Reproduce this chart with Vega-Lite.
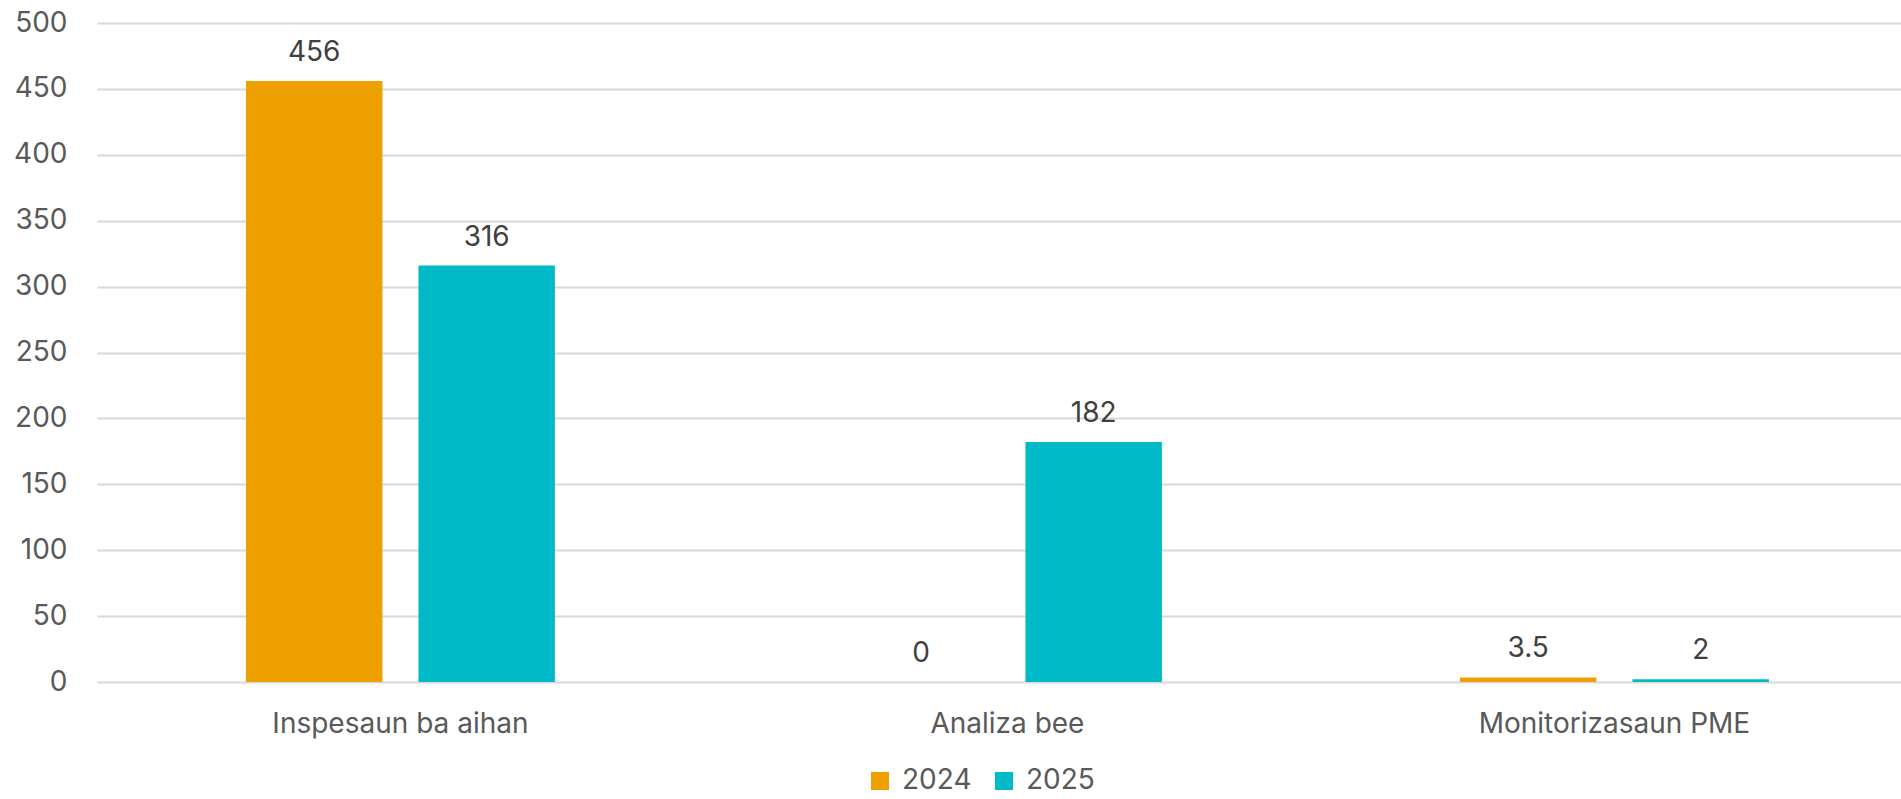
{
  "$schema": "https://vega.github.io/schema/vega-lite/v6.json",
  "autosize": "none",
  "width": 1804,
  "height": 659,
  "padding": {"left": 97, "top": 23, "right": 0, "bottom": 117},
  "background": "white",
  "config": {
    "font": "Inter",
    "view": {"stroke": null},
    "axis": {"labelFont": "Inter", "labelFontSize": 28, "labelColor": "#595959"}
  },
  "data": {
    "values": [
      {"category": "Inspesaun ba aihan", "year": "2024", "value": 456},
      {"category": "Inspesaun ba aihan", "year": "2025", "value": 316},
      {"category": "Analiza bee", "year": "2024", "value": 0},
      {"category": "Analiza bee", "year": "2025", "value": 182},
      {"category": "Monitorizasaun PME", "year": "2024", "value": 3.5},
      {"category": "Monitorizasaun PME", "year": "2025", "value": 2}
    ]
  },
  "encoding": {
    "x": {
      "field": "category",
      "type": "nominal",
      "sort": null,
      "scale": {"paddingInner": 0.491, "paddingOuter": 0.2315, "align": 0.53},
      "axis": {
        "title": null,
        "labelAngle": 0,
        "ticks": false,
        "domain": false,
        "labelPadding": 28,
        "labelLimit": 0,
        "grid": false
      }
    },
    "xOffset": {
      "field": "year",
      "type": "nominal",
      "scale": {"paddingInner": 0.209, "paddingOuter": 0}
    },
    "y": {
      "field": "value",
      "type": "quantitative",
      "scale": {"domain": [0, 500], "nice": false},
      "axis": {
        "title": null,
        "values": [0, 50, 100, 150, 200, 250, 300, 350, 400, 450, 500],
        "ticks": false,
        "domain": false,
        "labelPadding": 30,
        "gridColor": "#D9D9D9",
        "gridWidth": 2
      }
    }
  },
  "layer": [
    {
      "mark": {"type": "bar"},
      "encoding": {
        "color": {
          "field": "year",
          "type": "nominal",
          "scale": {"domain": ["2024", "2025"], "range": ["#EDA000", "#00BAC8"]},
          "legend": {
            "title": null,
            "orient": "none",
            "legendX": 769,
            "legendY": 744,
            "direction": "horizontal",
            "symbolType": "square",
            "symbolSize": 324,
            "symbolStrokeWidth": 0,
            "labelFontSize": 28,
            "labelColor": "#595959",
            "labelFont": "Inter",
            "labelOffset": 8,
            "columnPadding": 18
          }
        }
      }
    },
    {
      "mark": {"type": "text", "dy": -20, "baseline": "alphabetic", "fontSize": 28, "color": "#404040", "font": "Inter"},
      "encoding": {
        "text": {"field": "value", "type": "quantitative"}
      }
    }
  ]
}
